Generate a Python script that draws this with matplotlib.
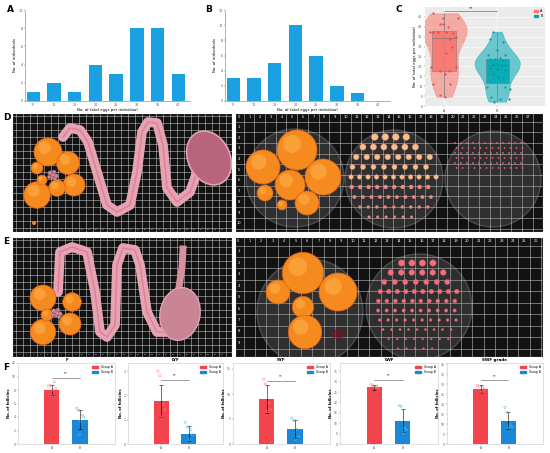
import numpy as np
import matplotlib
matplotlib.use("Agg")
import matplotlib.pyplot as plt
from matplotlib.patches import Circle, Ellipse, Rectangle, Patch

# ---------------- data ----------------
hist_bins = ["5", "10", "15", "20", "25", "30", "35", "40"]
hist_a = [1, 2, 1, 4, 3, 8, 8, 3]
hist_b = [3, 3, 5, 10, 6, 2, 1, 0]

violin_groups = ["A", "B"]
violin_a = [46.8, 44.3, 44.3, 41.4, 41.4, 40.0, 37.2, 37.2, 37.2, 37.2, 36.7, 35.0,
            33.7, 30.0, 26.6, 19.8, 19.8, 17.7, 17.7, 16.2, 11.0, 11.0, 5.6, 4.7]
violin_b = [37.5, 33.7, 32.5, 28.3, 25.8, 25.8, 24.1, 23.6, 23.6, 23.2, 21.6, 20.7,
            20.7, 20.7, 19.0, 18.5, 18.2, 16.2, 14.8, 14.3, 9.4, 9.4, 8.4, 4.7, 3.4, 3.4, 2.2]

f_titles = ["F", "LYF", "SYF", "LWF", "SWF grade"]
f_groups = ["A", "B"]
f_means_a = [8.0, 1.78, 9.0, 27.3, 27.5]
f_means_b = [3.6, 0.43, 3.0, 11.2, 11.7]
f_err_a = [0.75, 0.65, 2.8, 1.2, 1.9]
f_err_b = [1.4, 0.29, 1.8, 5.6, 4.2]
f_pts_a = [[8.6, 8.7, 9.2, 8.2, 8.0, 7.2],
           [2.99, 2.81, 1.62, 1.41, 1.11],
           [13.0, 12.0, 8.2, 6.9, 6.5],
           [28.6, 28.1, 27.8, 27.0, 27.5],
           [29.3, 28.8, 28.0, 27.2, 25.8]]
f_pts_b = [[5.3, 5.0, 4.3, 4.0, 3.4, 1.4],
           [0.89, 0.70, 0.59, 0.38, 0.18],
           [5.2, 4.7, 2.9, 1.5, 0.9],
           [18.5, 18.1, 7.7, 6.9, 5.3],
           [18.3, 15.8, 9.7, 8.5, 8.0]]
f_sig_level = [9.8, 2.62, 12.7, 30.7, 31.8]

# ---------------- layout helpers ----------------
W, H = 550, 453
fig = plt.figure(figsize=(5.5, 4.53), dpi=100)
fig.patch.set_facecolor("white")


def ax_px(l, t, r, b, **kw):
    return fig.add_axes([l / W, 1 - b / H, (r - l) / W, (b - t) / H], **kw)


def letter(x, y, s):
    fig.text(x / W, 1 - y / H, s, fontsize=6.5, fontweight="bold", ha="left", va="center")


TS = 2.4  # tiny font size

# ---------------- A & B histograms ----------------
BLUE = "#1ba1e2"
for (l, r, vals, ymax, lab) in [(25, 190, hist_a, 10, "A"), (225, 390, hist_b, 12, "B")]:
    ax = ax_px(l, 10, r, 101)
    x = np.arange(len(hist_bins))
    ax.bar(x, vals, width=0.65, color=BLUE)
    ax.set_xlim(-0.4, len(hist_bins) - 0.44)
    ax.set_ylim(0, ymax)
    ax.set_yticks(np.arange(0, ymax + 1, 2))
    ax.set_xticks(x)
    ax.set_xticklabels(hist_bins)
    ax.tick_params(labelsize=TS, length=1, width=0.3, pad=0.8, colors="#555555")
    for s in ["top", "right"]:
        ax.spines[s].set_visible(False)
    for s in ["left", "bottom"]:
        ax.spines[s].set_linewidth(0.4)
        ax.spines[s].set_color("#777777")
    ax.set_xlabel("No. of total eggs per individual", fontsize=2.8, labelpad=0.5)
    ax.set_ylabel("No. of individuals", fontsize=2.8, labelpad=1)
    letter(l - 18 if lab == "A" else l - 20, 10, lab)

# ---------------- C violin ----------------
axc = ax_px(425, 7, 545, 106)
axc.set_facecolor("#ebebeb")
RED_F, RED_P = "#f8766d", "#ee4455"
TEAL_F, TEAL_P = "#00a9b4", "#009aa5"
jit_a = [-0.21, -0.03, 0.26, -0.08, -0.02, 0.08, -0.27, -0.21, -0.11, 0.04, 0.17, 0.22,
         0.11, 0.14, 0.04, -0.24, 0.23, -0.08, 0.09, 0.01, -0.21, 0.11, -0.08, 0.01]
jit_b = [-0.07, -0.14, 0.10, -0.01, -0.17, 0.14, 0.05, -0.14, -0.04, 0.11, 0.0, -0.07,
         0.08, 0.14, -0.14, -0.01, 0.14, -0.07, 0.02, 0.11, -0.20, 0.14, 0.24, -0.11,
         0.05, 0.23, -0.06]
for i, (vals, fc, pc, jit) in enumerate([(violin_a, RED_F, RED_P, jit_a),
                                         (violin_b, TEAL_F, TEAL_P, jit_b)]):
    pos = i + 1
    vp = axc.violinplot([vals], positions=[pos], widths=0.85, showextrema=False)
    for b in vp["bodies"]:
        b.set_facecolor(fc)
        b.set_alpha(0.55)
        b.set_edgecolor(fc)
        b.set_linewidth(0.5)
    q1, med, q3 = np.percentile(vals, [25, 50, 75])
    axc.vlines(pos, min(vals), max(vals), color="#777777", lw=0.5, zorder=3)
    axc.add_patch(Rectangle((pos - 0.22, q1), 0.44, q3 - q1, facecolor=fc,
                            edgecolor="#777777", lw=0.4, alpha=0.9, zorder=3))
    axc.hlines(med, pos - 0.22, pos + 0.22, color="#777777", lw=0.5, zorder=4)
    axc.scatter(pos + np.array(jit), vals, s=2.5, color=pc, zorder=5, linewidths=0)
axc.set_xlim(0.64, 2.9)
axc.set_ylim(0, 50)
axc.set_yticks(np.arange(0, 50, 5))
axc.set_xticks([1, 2])
axc.set_xticklabels(violin_groups)
axc.grid(True, color="white", lw=0.4)
axc.set_axisbelow(True)
for s in axc.spines.values():
    s.set_visible(False)
axc.tick_params(labelsize=TS, length=1, width=0.3, pad=0.8, colors="#555555")
axc.set_ylabel("No. of total eggs per individual", fontsize=2.8, labelpad=1)
axc.plot([1, 2], [48, 48], color="#555555", lw=0.4)
axc.text(1.5, 48.3, "**", fontsize=3, ha="center", va="bottom")
axc.legend(handles=[Patch(color=RED_F, label=violin_groups[0]),
                    Patch(color=TEAL_F, label=violin_groups[1])],
           loc="upper right", fontsize=TS, frameon=False, handlelength=1.2,
           handleheight=0.6, borderaxespad=0.3, labelspacing=0.2)
letter(396, 9, "C")


# ---------------- photo illustrations D / E ----------------
def photo_ax(l, t, r, b, step, ruler=False, start=0):
    ax = ax_px(l, t, r, b)
    w, h = r - l, b - t
    ax.set_xlim(0, w)
    ax.set_ylim(h, 0)
    ax.set_facecolor("#121212")
    ax.set_xticks([])
    ax.set_yticks([])
    for s in ax.spines.values():
        s.set_color("white")
        s.set_linewidth(0.8)
    off = 8.6 if ruler else 4
    xs = np.arange(off, w, step)
    ys = np.arange(off if ruler else 3, h, step)
    ax.vlines(xs, 0, h, color="#dddddd", lw=0.45, alpha=0.75)
    ax.hlines(ys, 0, w, color="#dddddd", lw=0.45, alpha=0.75)
    if ruler:
        for n, xv in enumerate(xs):
            ax.text(xv - step / 2 + 0.5, 4, str(n + start), color="white", fontsize=2.6,
                    ha="center", va="center")
        for n, yv in enumerate(ys[:-1]):
            ax.text(4, yv + step / 2, str(n + 1), color="white", fontsize=2.6,
                    ha="center", va="center")
    else:
        for n, xv in enumerate(xs[:-1]):
            ax.text(xv + step / 2, h - 2.5, str(n + 1), color="#cccccc", fontsize=1.6,
                    ha="center", va="center")
    return ax


def oranges(ax, circles, color="#f58a1f"):
    for (x, y, r) in circles:
        ax.add_patch(Circle((x, y), r, facecolor=color, edgecolor="#e0601a", lw=0.5, zorder=4))
        ax.add_patch(Circle((x - r * 0.25, y - r * 0.3), r * 0.45, facecolor="#ffb04a",
                            edgecolor="none", alpha=0.6, zorder=5))


def dish(ax, x, y, r):
    ax.add_patch(Circle((x, y), r, facecolor="#9a9a9a", alpha=0.22, edgecolor="#dcdcdc",
                        lw=1.0, zorder=3))


def follicle_cluster(ax, x, y):
    for dx, dy, rr in [(-3, -2, 2.2), (1, -3, 2), (3, 1, 2.3), (-1, 2, 2.1), (-4, 2, 1.8),
                       (2, 4, 1.7), (0, 0, 2)]:
        ax.add_patch(Circle((x + dx, y + dy), rr, facecolor="#c98a9a", edgecolor="#8a4c5c",
                            lw=0.3, zorder=5))


# D left
axd1 = photo_ax(12, 113, 232, 232, 7.0)
path_d = np.array([(51, 24), (58, 15), (68, 17), (76, 29), (85, 59), (95, 92), (105, 99),
                   (118, 92), (125, 59), (130, 19), (136, 9), (145, 10), (151, 32), (155, 75),
                   (165, 89), (178, 79), (185, 59)])
axd1.plot(path_d[:, 0], path_d[:, 1], color="#e7a3b3", lw=7, solid_capstyle="round",
          solid_joinstyle="round", zorder=4)
axd1.plot(path_d[:, 0], path_d[:, 1], color="#c96a84", lw=1.2, alpha=0.5, zorder=4)
axd1.add_patch(Ellipse((197, 45), 42, 56, angle=-25, facecolor="#b8647c", edgecolor="#e3a0b0",
                       lw=1.2, zorder=4))
oranges(axd1, [(36, 39, 14), (56, 50, 11.5), (25, 82, 13.3), (62, 72, 11), (45, 75, 8.3),
               (25, 55, 6), (30, 67, 5)])
follicle_cluster(axd1, 41, 62)
axd1.add_patch(Circle((22, 110), 2, facecolor="#f58a1f", zorder=4))
letter(3, 117, "D")

# D right
axd2 = photo_ax(235, 113, 543, 232, 10.7, ruler=True, start=0)
dish(axd2, 60, 65, 49)
dish(axd2, 159, 66, 49)
dish(axd2, 258, 66, 48)
oranges(axd2, [(28, 54, 17), (30, 80, 8), (62, 37, 20), (88, 64, 18), (55, 72, 15),
               (72, 90, 12), (47, 92, 5)])
for ri, yv in enumerate(np.arange(24, 112, 10)):
    rr = max(3.4 - ri * 0.28, 1.3)
    col = "#f6c08c" if ri < 5 else "#f08a8a"
    half = np.sqrt(max(49 ** 2 - (yv - 66) ** 2, 0)) - 6
    for xv in np.arange(159 - half, 159 + half + 0.1, 10.5 if ri < 4 else 8.5):
        axd2.add_patch(Circle((xv, yv), rr, facecolor=col, edgecolor="#e27a6a", lw=0.3, zorder=5))
for yv in np.arange(30, 56, 5):
    for xv in np.arange(220, 292, 6):
        axd2.add_patch(Circle((xv + (yv % 10) * 0.3, yv), 0.9, facecolor="#e8607a",
                              edgecolor="none", zorder=5))

# E left
axe1 = photo_ax(12, 237, 232, 357, 7.0)
path_e = np.array([(46, 55), (48, 15), (60, 10), (75, 15), (83, 55), (88, 95), (95, 100),
                   (103, 88), (105, 28), (111, 11), (123, 13), (128, 28), (135, 75),
                   (145, 95), (155, 95)])
axe1.plot(path_e[:, 0], path_e[:, 1], color="#e7a3b3", lw=7, solid_capstyle="round",
          solid_joinstyle="round", zorder=4)
axe1.plot(path_e[:, 0], path_e[:, 1], color="#c96a84", lw=1.2, alpha=0.5, zorder=4)
axe1.plot([171, 170, 167], [12, 30, 50], color="#d6909f", lw=5, zorder=4)
axe1.add_patch(Ellipse((168, 77), 40, 53, angle=10, facecolor="#c98595", edgecolor="#e3a0b0",
                       lw=1.0, zorder=4))
oranges(axe1, [(31, 61, 13), (60, 65, 9.3), (31, 95, 12.7), (58, 87, 11), (35, 78, 6)])
follicle_cluster(axe1, 45, 76)
letter(3, 241, "E")

# E right
axe2 = photo_ax(235, 237, 543, 357, 11.44, ruler=True, start=0)
dish(axe2, 75, 75, 53)
dish(axe2, 184, 70, 53)
oranges(axe2, [(43, 55, 12), (68, 36, 20.7), (103, 55, 19), (68, 70, 10.7), (70, 95, 16.7)])
axe2.add_patch(Ellipse((103, 97), 14, 10, facecolor="#7a1020", alpha=0.6, zorder=4))
for ri, yv in enumerate(np.arange(26, 112, 9.5)):
    rr = max(3.2 - ri * 0.3, 0.9)
    half = np.sqrt(max(53 ** 2 - (yv - 70) ** 2, 0)) - 12
    for xv in np.arange(184 - half, 184 + half + 0.1, 10.5 if ri < 3 else 8.5):
        axe2.add_patch(Circle((xv, yv), rr, facecolor="#f07080", edgecolor="#d95060",
                              lw=0.3, zorder=5))

# ---------------- F bar panels ----------------
F_RED, F_BLUE = "#f2444d", "#1a88d6"
f_boxes = [(18, 115), (128, 223), (233, 330), (340, 438), (447, 543)]
f_ylims = [12, 3.33, 16.2, 39, 40.5]
f_steps = [2, 1, 5, 5, 5]
jit_f = [-0.12, -0.05, 0.08, 0.13, 0.02, -0.02]
for k, (l, r) in enumerate(f_boxes):
    ax = ax_px(l, 363, r, 444)
    x = np.array([1, 2])
    ax.bar(x, [f_means_a[k], f_means_b[k]], width=0.54, color=[F_RED, F_BLUE], zorder=2)
    ax.errorbar(x, [f_means_a[k], f_means_b[k]], yerr=[f_err_a[k], f_err_b[k]], fmt="none",
                ecolor="black", elinewidth=0.4, capsize=1.2, capthick=0.4, zorder=4)
    pa = f_pts_a[k]
    pb = f_pts_b[k]
    ax.scatter(1 + np.array(jit_f[:len(pa)]), pa, s=2.5, facecolor="none",
               edgecolor="#ff7b85", linewidths=0.35, zorder=5)
    ax.scatter(2 + np.array(jit_f[:len(pb)]), pb, s=2.5, facecolor="none",
               edgecolor="#52c3d8", linewidths=0.35, zorder=5)
    ax.plot([1, 2], [f_sig_level[k]] * 2, color="#555555", lw=0.4)
    ax.text(1.5, f_sig_level[k] + f_ylims[k] * 0.03, "**", fontsize=2.6, ha="center",
            va="bottom")
    ax.set_xlim(-0.21, 3.25)
    ax.set_ylim(0, f_ylims[k])
    ax.set_yticks(np.arange(0, f_ylims[k] + 0.01, f_steps[k]))
    ax.set_xticks(x)
    ax.set_xticklabels(f_groups)
    ax.tick_params(labelsize=2.2, length=1, width=0.3, pad=0.6, colors="#555555")
    for s in ax.spines.values():
        s.set_linewidth(0.4)
        s.set_color("#c8c8c8")
    ax.set_title(f_titles[k], fontsize=3, pad=1.2, fontweight="bold")
    ax.set_ylabel("No. of follicles", fontsize=2.6, labelpad=0.8, fontweight="bold")
    ax.legend(handles=[Patch(color=F_RED, label="Group A"),
                       Patch(color=F_BLUE, label="Group B")],
              loc="upper right", fontsize=2.2, frameon=False, handlelength=2,
              handleheight=0.6, borderaxespad=0.4, labelspacing=0.2)
letter(3, 367, "F")

fig.savefig("out.png", dpi=100, facecolor="white")
